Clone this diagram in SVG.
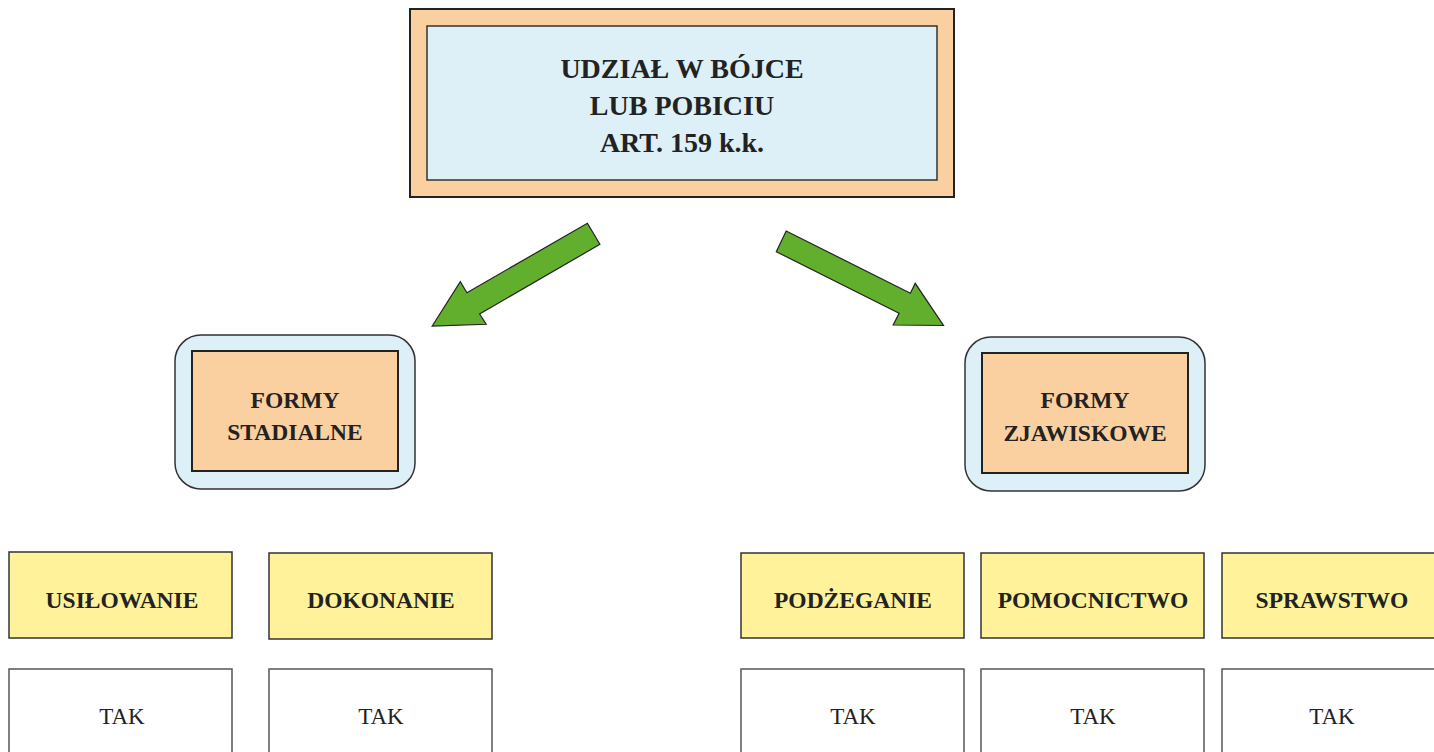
<svg xmlns="http://www.w3.org/2000/svg" width="1434" height="752" viewBox="0 0 1434 752">
<style>
text{font-family:"Liberation Serif","Times New Roman",serif;fill:#222;text-anchor:middle}
.b{font-weight:bold}
.peach{fill:#FAD0A0;stroke:#222;stroke-width:2}
.blue{fill:#DDEFF7;stroke:#333;stroke-width:1.5}
.yel{fill:#FFF29A;stroke:#333;stroke-width:1.5}
.wht{fill:#fff;stroke:#555;stroke-width:1.5}
.arr{fill:#62AF2E;stroke:#222;stroke-width:1.2;stroke-linejoin:miter}
</style>
<rect width="1434" height="752" fill="#fff"/>
<g id="root">
<rect class="peach" x="410" y="9" width="544" height="188"/>
<rect class="blue" x="427" y="26" width="510" height="154"/>
<text class="b" x="682" y="78" font-size="28">UDZIAŁ W BÓJCE</text>
<text class="b" x="682" y="115" font-size="28">LUB POBICIU</text>
<text class="b" x="682" y="152" font-size="28">ART. 159 k.k.</text>
</g>
<g id="connectors">
<polygon class="arr" points="587.4,223.3 599.9,244.3 479.6,314 486.2,324.3 432.2,326 460.3,281.7 466.9,292.7"/>
<polygon class="arr" points="786.2,231 776.3,251.7 899.1,313.3 893.2,325 943.5,325.5 915.2,283.3 910.4,293.3"/>
</g>
<g id="formy-stadialne">
<rect class="blue" x="175" y="335" width="240" height="154" rx="26"/>
<rect class="peach" x="192" y="351" width="206" height="120" stroke-width="1.5"/>
<text class="b" x="295" y="408" font-size="23.5">FORMY</text>
<text class="b" x="295" y="440" font-size="23.5">STADIALNE</text>
</g>
<g id="formy-zjawiskowe">
<rect class="blue" x="965" y="337" width="240" height="154" rx="26"/>
<rect class="peach" x="982" y="353" width="206" height="120" stroke-width="1.5"/>
<text class="b" x="1085" y="408" font-size="23.5">FORMY</text>
<text class="b" x="1085" y="441" font-size="23.5">ZJAWISKOWE</text>
</g>
<g id="usilowanie">
<rect class="yel" x="9" y="552" width="223" height="86"/>
<text class="b" x="122" y="608" font-size="23.5">USIŁOWANIE</text>
</g>
<g id="dokonanie">
<rect class="yel" x="269" y="553" width="223" height="86"/>
<text class="b" x="381" y="608" font-size="23.5">DOKONANIE</text>
</g>
<g id="podzeganie">
<rect class="yel" x="741" y="553" width="223" height="85"/>
<text class="b" x="853" y="608" font-size="23.5">PODŻEGANIE</text>
</g>
<g id="pomocnictwo">
<rect class="yel" x="981" y="553" width="223" height="85"/>
<text class="b" x="1093" y="608" font-size="23.5">POMOCNICTWO</text>
</g>
<g id="sprawstwo">
<rect class="yel" x="1222" y="553" width="223" height="85"/>
<text class="b" x="1332" y="608" font-size="23.5">SPRAWSTWO</text>
</g>
<g id="tak-1">
<rect class="wht" x="9" y="669" width="223" height="100"/>
<text x="122" y="724" font-size="23">TAK</text>
</g>
<g id="tak-2">
<rect class="wht" x="269" y="669" width="223" height="100"/>
<text x="381" y="724" font-size="23">TAK</text>
</g>
<g id="tak-3">
<rect class="wht" x="741" y="669" width="223" height="100"/>
<text x="853" y="724" font-size="23">TAK</text>
</g>
<g id="tak-4">
<rect class="wht" x="981" y="669" width="223" height="100"/>
<text x="1093" y="724" font-size="23">TAK</text>
</g>
<g id="tak-5">
<rect class="wht" x="1222" y="669" width="223" height="100"/>
<text x="1332" y="724" font-size="23">TAK</text>
</g>
</svg>
